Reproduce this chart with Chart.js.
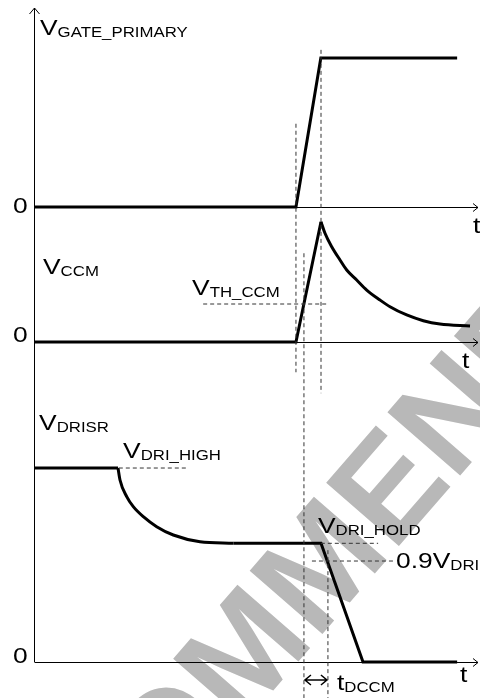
<!DOCTYPE html>
<html>
<head>
<meta charset="utf-8">
<script src="https://cdn.jsdelivr.net/npm/chart.js@4.4.1/dist/chart.umd.min.js"></script>
<style>
body { margin: 0; background: #fff; }
#wrap { width: 480px; height: 698px; }
</style>
</head>
<body>
<div id="wrap"><canvas id="timing"></canvas></div>
<script>
// time runs 0..100, voltage axis 0..100; each trace sits on its own zero line
var panelBase = [69.57, 48.93, 0];

// V_GATE_PRIMARY
var gateT = [0, 59.0, 64.6, 95.3];
var gateV = [0, 0, 22.8, 22.8];

// V_CCM
var ccmRiseT = [0, 59.0, 64.64];
var ccmRiseV = [0, 0, 18.39];
var ccmDecayT = [64.64, 65.54, 67.05, 68.92, 70.43, 72.68, 74.93, 77.93, 80.18, 83.94, 87.68, 91.44, 98.2];
var ccmDecayV = [18.39, 16.62, 14.57, 12.54, 11.01, 9.48, 7.95, 6.42, 5.40, 4.13, 3.26, 2.75, 2.45];

// V_DRISR
var driHighT = [0, 18.92];
var driHighV = [29.66, 29.66];
var driCurveT = [18.92, 19.37, 20.88, 22.36, 24.62, 27.63, 31.37, 37.39, 44.89];
var driCurveV = [29.66, 27.83, 25.28, 23.75, 22.22, 20.69, 19.42, 18.39, 18.15];
var driFallT = [44.89, 64.64, 74.1, 95.3];
var driFallV = [18.15, 18.15, 0, 0];

// levels and instants
var vTh = 5.81, vDriHigh = 29.66, vDriHold = 18.15, vDri90 = 15.44;
var tOn = 59.0, tTh = 60.8, tPeak = 64.64, tDccm = 66.2;

// dashed verticals: [t, from, to] on the shared axis
var guideV = [
    [tOn, 82.3, 44.3],
    [tPeak, 93.6, 41.1],
    [tTh, 62.5, -5.5],
    [tDccm, 17.1, -5.5]
];
// dashed horizontals: [panel, level, tFrom, tTo]
var guideH = [
    [1, vTh, 38.1, 66.2],
    [2, vDriHigh, 19.1, 34.7],
    [2, vDriHold, 64.6, 77.5],
    [2, vDri90, 62.6, 81.3]
];

// text: [t, y, main, sub]
var labels = [
    [1.35, 95.87, 'V', 'GATE_PRIMARY'],
    [2.03, 59.33, 'V', 'CCM'],
    [35.6, 56.12, 'V', 'TH_CCM'],
    [1.13, 35.47, 'V', 'DRISR'],
    [20.05, 31.19, 'V', 'DRI_HIGH'],
    [63.96, 19.72, 'V', 'DRI_HOLD'],
    [81.53, 14.37, '0.9V', 'DRI'],
    [68.24, -4.28, 't', 'DCCM'],
    [-4.73, 68.65, '0', ''],
    [-4.73, 48.93, '0', ''],
    [-4.73, -0.15, '0', ''],
    [98.87, 65.6, 't', ''],
    [96.4, 44.95, 't', ''],
    [95.95, -3.06, 't', '']
];

function pts(ts, vs, base) {
    var out = [];
    for (var i = 0; i < ts.length; i++) out.push({x: ts[i], y: vs[i] + base});
    return out;
}

function trace(data, curved) {
    return {
        data: data, showLine: true, borderColor: '#000', borderWidth: 3,
        pointRadius: 0, borderJoinStyle: 'miter', clip: false,
        cubicInterpolationMode: curved ? 'monotone' : 'default', tension: 0
    };
}

function dashed(data) {
    return {
        data: data, showLine: true, borderColor: '#333', borderWidth: 1,
        borderDash: [4, 3], pointRadius: 0, clip: false, tension: 0
    };
}

var datasets = [];
guideV.forEach(function (g) {
    datasets.push(dashed([{x: g[0], y: g[1]}, {x: g[0], y: g[2]}]));
});
guideH.forEach(function (g) {
    var b = panelBase[g[0]];
    datasets.push(dashed([{x: g[2], y: g[1] + b}, {x: g[3], y: g[1] + b}]));
});
datasets.push(trace(pts(gateT, gateV, panelBase[0]), false));
datasets.push(trace(pts(ccmRiseT, ccmRiseV, panelBase[1]), false));
datasets.push(trace(pts(ccmDecayT, ccmDecayV, panelBase[1]), true));
datasets.push(trace(pts(driHighT, driHighV, panelBase[2]), false));
datasets.push(trace(pts(driCurveT, driCurveV, panelBase[2]), true));
datasets.push(trace(pts(driFallT, driFallV, panelBase[2]), false));

var FONT = '"Liberation Sans", Arial, sans-serif';

// grey watermark behind everything
var watermark = {
    id: 'watermark',
    beforeDraw: function (chart) {
        var ctx = chart.ctx;
        ctx.save();
        ctx.font = 'bold 140px ' + FONT;
        ctx.fillStyle = '#b8b8b8';
        var off = ctx.measureText('RECO').width + ctx.measureText('M').width / 2;
        ctx.translate(240, 652);
        ctx.rotate(-49 * Math.PI / 180);
        ctx.fillText('RECOMMENDED', -off, 0.36 * 140);
        ctx.restore();
    }
};

// axes with open arrow heads
var axes = {
    id: 'axes',
    beforeDatasetsDraw: function (chart) {
        var ctx = chart.ctx, xs = chart.scales.x, ys = chart.scales.y;
        var x0 = Math.round(xs.getPixelForValue(0)) + 0.5;
        var x1 = xs.getPixelForValue(100);
        var yTop = ys.getPixelForValue(100);
        ctx.save();
        ctx.strokeStyle = '#000';
        ctx.lineWidth = 1;
        ctx.beginPath();
        ctx.moveTo(x0, ys.getPixelForValue(0));
        ctx.lineTo(x0, yTop);
        ctx.moveTo(x0 - 5, yTop + 6);
        ctx.lineTo(x0, yTop);
        ctx.lineTo(x0 + 5, yTop + 6);
        panelBase.forEach(function (b) {
            var y = Math.round(ys.getPixelForValue(b)) + 0.5;
            ctx.moveTo(x0, y);
            ctx.lineTo(x1, y);
            ctx.moveTo(x1 - 5, y - 4);
            ctx.lineTo(x1, y);
            ctx.lineTo(x1 - 5, y + 4);
        });
        ctx.stroke();
        ctx.restore();
    },
    afterDatasetsDraw: function (chart) {
        var ctx = chart.ctx, xs = chart.scales.x, ys = chart.scales.y;
        // t_DCCM double arrow
        var a = xs.getPixelForValue(tTh) + 1, c = xs.getPixelForValue(tDccm) - 1;
        var y = ys.getPixelForValue(-2.75);
        ctx.save();
        ctx.strokeStyle = '#000';
        ctx.lineWidth = 1.5;
        ctx.beginPath();
        ctx.moveTo(a, y); ctx.lineTo(c, y);
        ctx.moveTo(a + 6, y - 5); ctx.lineTo(a, y); ctx.lineTo(a + 6, y + 5);
        ctx.moveTo(c - 6, y - 5); ctx.lineTo(c, y); ctx.lineTo(c - 6, y + 5);
        ctx.stroke();

        ctx.fillStyle = '#000';
        ctx.textBaseline = 'alphabetic';
        labels.forEach(function (l) {
            ctx.save();
            ctx.translate(xs.getPixelForValue(l[0]), ys.getPixelForValue(l[1]));
            ctx.scale(1.2, 1);
            ctx.font = '22px ' + FONT;
            ctx.fillText(l[2], 0, 0);
            var w = ctx.measureText(l[2]).width;
            if (l[3]) {
                ctx.font = '14px ' + FONT;
                ctx.fillText(l[3], w, 2);
            }
            ctx.restore();
        });
        ctx.restore();
    }
};

new Chart(document.getElementById('timing'), {
    type: 'scatter',
    data: {datasets: datasets},
    options: {
        responsive: true,
        maintainAspectRatio: false,
        animation: false,
        events: [],
        layout: {padding: {left: 34, right: 2, top: 8, bottom: 36}},
        scales: {
            x: {type: 'linear', min: 0, max: 100, display: false},
            y: {type: 'linear', min: 0, max: 100, display: false}
        },
        plugins: {legend: {display: false}, tooltip: {enabled: false}}
    },
    plugins: [watermark, axes]
});
</script>
</body>
</html>
